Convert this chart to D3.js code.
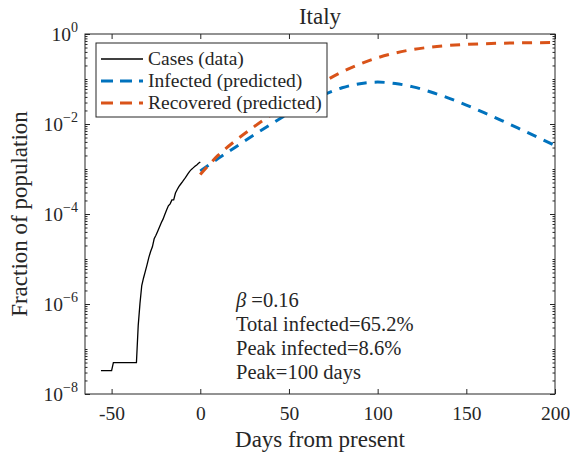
<!DOCTYPE html>
<html>
<head>
<meta charset="utf-8">
<script src="https://cdn.jsdelivr.net/npm/d3@7"></script>
<style>
  body { margin: 0; background: #fff; }
  text { font-family: "Liberation Serif", "Times New Roman", serif; fill: #262626; }
</style>
</head>
<body>
<div id="viz"></div>
<script>
const width = 570,
    height = 455,
    plotLeft = 85, plotRight = 555, plotTop = 34, plotBottom = 394;

// reported cases as a fraction of the population, one value per day from day -56
const caseStart = -56;
const caseFraction = [
    3.31e-8, 3.31e-8, 3.31e-8, 3.31e-8, 3.31e-8, 3.31e-8, 3.31e-8,
    4.97e-8, 4.97e-8, 4.97e-8, 4.97e-8, 4.97e-8, 4.97e-8, 4.97e-8,
    4.97e-8, 4.97e-8, 4.97e-8, 4.97e-8, 4.97e-8, 4.97e-8, 4.97e-8,
    3.31e-7, 1.03e-6, 2.57e-6, 3.79e-6, 5.33e-6, 7.50e-6, 1.085e-5, 1.47e-5, 1.87e-5,
    2.81e-5, 3.37e-5, 4.15e-5, 5.12e-5, 6.39e-5, 7.68e-5, 9.75e-5, 1.222e-4, 1.52e-4, 1.68e-4,
    2.06e-4, 2.06e-4, 2.93e-4, 3.51e-4, 4.10e-4, 4.64e-4, 5.22e-4, 5.92e-4, 6.80e-4, 7.79e-4,
    8.88e-4, 9.80e-4, 1.059e-3, 1.146e-3, 1.232e-3, 1.335e-3, 1.433e-3
];

// model prediction, every 10 days from day 0 to day 200
const predDays = [0, 10, 20, 30, 40, 50, 60, 70, 80, 90, 100, 110, 120, 130, 140, 150, 160, 170, 180, 190, 200];
const infected = [0.00090, 0.0017, 0.0031, 0.00562, 0.0100, 0.0174, 0.0290, 0.0453, 0.0638, 0.0786, 0.0853,
    0.0793, 0.0669, 0.0515, 0.0376, 0.0263, 0.0178, 0.0119, 0.00782, 0.0051, 0.00331];
const recovered = [0.00075, 0.0020, 0.00431, 0.00851, 0.0160, 0.0293, 0.0518, 0.0886, 0.144, 0.215, 0.297,
    0.379, 0.453, 0.512, 0.556, 0.588, 0.609, 0.624, 0.634, 0.641, 0.645];

const xTicks = [-50, 0, 50, 100, 150, 200];
const yTickExp = [0, -2, -4, -6, -8];
const legendLabels = ["Cases (data)", "Infected (predicted)", "Recovered (predicted)"];
const notes = ["=0.16", "Total infected=65.2%", "Peak infected=8.6%", "Peak=100 days"];

const colors = { cases: "#000000", infected: "#0072BD", recovered: "#D95319" };

const svg = d3.select("#viz").append("svg")
    .attr("width", width)
    .attr("height", height);

const x = d3.scaleLinear().domain([-65, 200]).range([plotLeft, plotRight]);
const y = d3.scaleLog().domain([1e-8, 1]).range([plotBottom, plotTop]);

// axes: ticks point inward, mirrored on top and right
const minorVals = [];
for (let e = -8; e < 0; e++) {
    for (let m = 1; m < 10; m++) {
        if (m === 1 && e % 2 === 0) continue;
        minorVals.push(m * Math.pow(10, e));
    }
}
const majorVals = yTickExp.map(e => Math.pow(10, e));

svg.append("g")
    .attr("transform", "translate(0," + plotBottom + ")")
    .call(d3.axisBottom(x).tickValues(xTicks).tickSize(-5).tickPadding(12).tickFormat(d => d))
    .call(g => g.select(".domain").remove())
    .call(g => g.selectAll("text").style("font-size", "19.5px").attr("fill", "#262626").attr("font-family", null))
    .call(g => g.selectAll("line").attr("stroke", "#262626"));

svg.append("g")
    .attr("transform", "translate(0," + plotTop + ")")
    .call(d3.axisTop(x).tickValues(xTicks).tickSize(-5).tickFormat(""))
    .call(g => g.select(".domain").remove())
    .call(g => g.selectAll("line").attr("stroke", "#262626"));

[[d3.axisLeft, plotLeft], [d3.axisRight, plotRight]].forEach(([ax, pos]) => {
    svg.append("g")
        .attr("transform", "translate(" + pos + ",0)")
        .call(ax(y).tickValues(minorVals).tickSize(-2.5).tickFormat(""))
        .call(g => g.select(".domain").remove())
        .call(g => g.selectAll("line").attr("stroke", "#262626"));
    svg.append("g")
        .attr("transform", "translate(" + pos + ",0)")
        .call(ax(y).tickValues(majorVals).tickSize(-5).tickFormat(""))
        .call(g => g.select(".domain").remove())
        .call(g => g.selectAll("line").attr("stroke", "#262626"));
});

const yLabels = svg.append("g").selectAll("text")
    .data(yTickExp)
    .enter().append("text")
    .attr("x", 78)
    .attr("y", d => y(Math.pow(10, d)) + 7)
    .attr("text-anchor", "end")
    .style("font-size", "19.5px");
yLabels.append("tspan").text("10");
yLabels.append("tspan")
    .attr("dy", -9)
    .style("font-size", "14px")
    .text(d => d === 0 ? "0" : "\u2212" + (-d));

svg.append("rect")
    .attr("x", plotLeft).attr("y", plotTop)
    .attr("width", plotRight - plotLeft).attr("height", plotBottom - plotTop)
    .attr("fill", "none")
    .attr("stroke", "#262626")
    .attr("stroke-width", 1);

// data and prediction
const caseData = caseFraction.map((v, i) => [caseStart + i, v]);
const infData = predDays.map((d, i) => [d, infected[i]]);
const recData = predDays.map((d, i) => [d, recovered[i]]);

const line = d3.line().x(d => x(d[0])).y(d => y(d[1]));
const smooth = d3.line().x(d => x(d[0])).y(d => y(d[1])).curve(d3.curveMonotoneX);

svg.append("path")
    .attr("d", line(caseData))
    .attr("fill", "none")
    .attr("stroke", colors.cases)
    .attr("stroke-width", 1.3);

svg.append("path")
    .attr("d", smooth(infData))
    .attr("fill", "none")
    .attr("stroke", colors.infected)
    .attr("stroke-width", 3)
    .attr("stroke-dasharray", "10,8");

svg.append("path")
    .attr("d", smooth(recData))
    .attr("fill", "none")
    .attr("stroke", colors.recovered)
    .attr("stroke-width", 3)
    .attr("stroke-dasharray", "10,8");

// legend
const legend = svg.append("g");
legend.append("rect")
    .attr("x", 96).attr("y", 43)
    .attr("width", 231).attr("height", 74)
    .attr("fill", "#fff")
    .attr("stroke", "#262626")
    .attr("stroke-width", 1);

const legendStyles = [
    { color: colors.cases, width: 1.3, dash: null },
    { color: colors.infected, width: 3, dash: "12,7" },
    { color: colors.recovered, width: 3, dash: "12,7" }
];
legendLabels.forEach((label, i) => {
    const ly = 59 + i * 22;
    legend.append("line")
        .attr("x1", 101).attr("x2", 143)
        .attr("y1", ly).attr("y2", ly)
        .attr("stroke", legendStyles[i].color)
        .attr("stroke-width", legendStyles[i].width)
        .attr("stroke-dasharray", legendStyles[i].dash);
    legend.append("text")
        .attr("x", 148).attr("y", ly + 6)
        .style("font-size", "19.5px")
        .attr("fill", "#000")
        .text(label);
});

// annotation
const note = svg.append("g");
notes.forEach((t, i) => {
    const tx = note.append("text")
        .attr("x", 236).attr("y", 307 + i * 24)
        .style("font-size", "20.5px")
        .attr("fill", "#000");
    if (i === 0) {
        tx.append("tspan").style("font-style", "italic").text("\u03b2");
        tx.append("tspan").text(" " + t);
    } else {
        tx.text(t);
    }
});

// title and axis labels
svg.append("text")
    .attr("x", (plotLeft + plotRight) / 2).attr("y", 24)
    .attr("text-anchor", "middle")
    .style("font-size", "23px")
    .attr("fill", "#000")
    .text("Italy");

svg.append("text")
    .attr("x", (plotLeft + plotRight) / 2).attr("y", 447)
    .attr("text-anchor", "middle")
    .style("font-size", "23px")
    .text("Days from present");

svg.append("text")
    .attr("transform", "translate(27," + (plotTop + plotBottom) / 2 + ") rotate(-90)")
    .attr("text-anchor", "middle")
    .style("font-size", "23px")
    .text("Fraction of population");
</script>
</body>
</html>
